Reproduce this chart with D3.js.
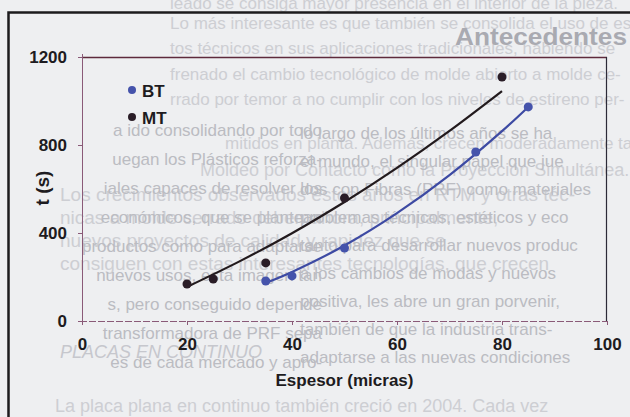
<!DOCTYPE html>
<html>
<head>
<meta charset="utf-8">
<script src="https://cdn.jsdelivr.net/npm/d3@7"></script>
<style>
	body { margin: 0; background: #eeeff1; }
	svg { display: block; }
	.axis text { font-family: "Liberation Sans", Arial, sans-serif; font-size: 17px; font-weight: bold; fill: #1d1b20; }
	.axis line { stroke: #8a5a78; stroke-width: 1; }
	.label { font-family: "Liberation Sans", Arial, sans-serif; font-weight: bold; fill: #1d1b20; }
	.bleed { font-family: "Liberation Sans", Arial, sans-serif; font-size: 17px; }
</style>
</head>
<body>
<script>
// values (espesor in micras, t in s)
var mtThickness = [20, 25, 35, 50, 80],
	mtTime = [168, 191, 264, 559, 1109];
var btThickness = [35, 40, 50, 75, 85],
	btTime = [182, 205, 332, 768, 973];

// the fitted curves
var mtFitThickness = [20, 30, 40, 50, 60, 70, 80],
	mtFitTime = [155, 271, 399, 541, 696, 864, 1045];
var btFitThickness = [35, 40, 50, 60, 70, 80, 85],
	btFitTime = [173, 223, 343, 490, 663, 863, 973];

var xTicks = [0, 20, 40, 60, 80, 100],
	yTicks = [0, 400, 800, 1200];
var seriesNames = ['BT', 'MT'];

// text from the other side of the page that shows through the scan
// [x, baseline, text, font size]
var bleedLight = [
	[170, 9, 'leado se consiga mayor presencia en el interior de la pieza.', 17],
	[170, 29, 'Lo más interesante es que también se consolida el uso de es-', 17],
	[170, 54, 'tos técnicos en sus aplicaciones tradicionales, habiendo se', 17],
	[170, 80, 'frenado el cambio tecnológico de molde abierto a molde ce-', 17],
	[170, 105, 'rrado por temor a no cumplir con los niveles de estireno per-', 17],
	[225, 149, 'mitidos en planta. Además, crecen moderadamente tanto el', 17],
	[200, 176, 'Moldeo por Contacto como la Proyección Simultánea.', 18],
	[60, 201, 'Los crecimientos observados estos años en RTM y otras téc-', 19],
	[60, 224, 'nicas a molde cerrado deben ahora, principalmente,', 19],
	[60, 247, 'nuevos proyectos de calidad y rapidez que se', 19],
	[60, 270, 'consiguen con estas interesantes tecnologías, que crecen', 19],
	[55, 412, 'La placa plana en continuo también creció en 2004. Cada vez', 18]
];
var bleedLeft = ['a ido consolidando por todo', 'uegan los Plásticos reforza-',
	'iales capaces de resolver los', 'económicos, que se plantean', 'productos como para adaptarse',
	'nuevos usos, esta imagen tan', 's, pero conseguido depende', 'transformadora de PRF sepa',
	'es de cada mercado y apro-'];
var bleedRight = ['lo largo de los últimos años se ha', 'el mundo, el singular papel que jue',
	'dos con Fibras (PRF) como materiales', 'problemas técnicos, estéticos y eco',
	'tanto para desarrollar nuevos produc', 'a los cambios de modas y nuevos',
	'positiva, les abre un gran porvenir,', 'también de que la industria trans-',
	'adaptarse a las nuevas condiciones'];

var width = 630,
	height = 417;

var svg = d3.select('body').append('svg')
	.attr('width', width)
	.attr('height', height);

svg.append('rect')
	.attr('width', width)
	.attr('height', height)
	.attr('fill', '#eeeff1');

// faint show-through text
var bleed = svg.append('g').attr('class', 'bleed');

bleed.selectAll('.light')
	.data(bleedLight)
	.enter().append('text')
	.attr('class', 'light')
	.attr('x', function(d) { return d[0]; })
	.attr('y', function(d) { return d[1]; })
	.style('font-size', function(d) { return d[3] + 'px'; })
	.attr('fill', '#cdced3')
	.text(function(d) { return d[2]; });

bleed.selectAll('.left')
	.data(bleedLeft)
	.enter().append('text')
	.attr('class', 'left')
	.attr('x', 322)
	.attr('y', function(d, i) { return 136 + i * 29; })
	.attr('text-anchor', 'end')
	.attr('fill', '#bbbcc2')
	.text(function(d) { return d; });

bleed.selectAll('.right')
	.data(bleedRight)
	.enter().append('text')
	.attr('class', 'right')
	.attr('x', 300)
	.attr('y', function(d, i) { return 139 + i * 28; })
	.attr('fill', '#bbbcc2')
	.text(function(d) { return d; });

bleed.append('text')
	.attr('x', 455)
	.attr('y', 45)
	.attr('textLength', 172)
	.attr('lengthAdjust', 'spacingAndGlyphs')
	.attr('fill', '#a9aab1')
	.style('font-size', '24px')
	.style('font-weight', 'bold')
	.text('Antecedentes');

bleed.append('text')
	.attr('x', 60)
	.attr('y', 358)
	.attr('fill', '#c6c7cd')
	.style('font-style', 'italic')
	.style('font-size', '18px')
	.text('PLACAS EN CONTINUO');

// outer frame of the figure (runs off the right and bottom)
svg.append('path')
	.attr('d', 'M8.5,' + (height + 5) + 'V12.5H' + (width + 5))
	.attr('fill', 'none')
	.attr('stroke', '#1c1b1d')
	.attr('stroke-width', 2.5);

var xScale = d3.scaleLinear().domain([0, 100]).range([82, 607]),
	yScale = d3.scaleLinear().domain([0, 1200]).range([321, 57]);

var xAxis = d3.axisBottom(xScale).tickValues(xTicks).tickSize(4).tickPadding(13),
	yAxis = d3.axisLeft(yScale).tickValues(yTicks).tickSize(4).tickPadding(11)
		.tickFormat(d3.format('d'));

// top and right edges of the plot box
svg.append('line')
	.attr('x1', xScale(0)).attr('x2', xScale(100))
	.attr('y1', yScale(1200) + 0.5).attr('y2', yScale(1200) + 0.5)
	.attr('stroke', '#5e2a3c')
	.attr('stroke-width', 1.3);

svg.append('line')
	.attr('x1', xScale(100) - 0.5).attr('x2', xScale(100) - 0.5)
	.attr('y1', yScale(1200)).attr('y2', yScale(0))
	.attr('stroke', '#2c2a38')
	.attr('stroke-width', 1.2);

// x axis
var gx = svg.append('g')
	.attr('class', 'axis axis--x')
	.attr('transform', 'translate(0,' + yScale(0) + ')')
	.call(xAxis);
gx.select('.domain').remove();
gx.append('line')
	.attr('x1', xScale(0) - 2).attr('x2', xScale(100))
	.attr('y1', 0.5).attr('y2', 0.5)
	.attr('stroke', '#6e3658')
	.attr('stroke-width', 1.4)
	.attr('stroke-dasharray', '7,2');
gx.selectAll('.tick').filter(function(d) { return d === 0; }).select('line').remove();

// y axis
var gy = svg.append('g')
	.attr('class', 'axis axis--y')
	.attr('transform', 'translate(' + xScale(0) + ',0)')
	.call(yAxis);
gy.select('.domain').remove();
gy.append('line')
	.attr('x1', 0.5).attr('x2', 0.5)
	.attr('y1', yScale(1200) - 3).attr('y2', yScale(0) + 4)
	.attr('stroke', '#6d6380')
	.attr('stroke-width', 1.2);

// axis titles
svg.append('text')
	.attr('class', 'label')
	.attr('transform', 'translate(49,188) rotate(-90)')
	.attr('text-anchor', 'middle')
	.style('font-size', '19px')
	.text('t (s)');

svg.append('text')
	.attr('class', 'label')
	.attr('x', (xScale(0) + xScale(100)) / 2)
	.attr('y', 386)
	.attr('text-anchor', 'middle')
	.style('font-size', '17px')
	.text('Espesor (micras)');

var colors = { BT: '#4553ab', MT: '#2a1d27' },
	lineColors = { BT: '#3d4aa3', MT: '#221a1d' };

var series = [
	{ name: 'BT', xs: btThickness, ys: btTime, fx: btFitThickness, fy: btFitTime },
	{ name: 'MT', xs: mtThickness, ys: mtTime, fx: mtFitThickness, fy: mtFitTime }
];

var line = d3.line()
	.x(function(d) { return xScale(d[0]); })
	.y(function(d) { return yScale(d[1]); })
	.curve(d3.curveCatmullRom);

series.forEach(function(s) {
	svg.append('path')
		.datum(d3.zip(s.fx, s.fy))
		.attr('fill', 'none')
		.attr('stroke', lineColors[s.name])
		.attr('stroke-width', 2.2)
		.attr('d', line);

	svg.selectAll('.dot-' + s.name)
		.data(d3.zip(s.xs, s.ys))
		.enter().append('circle')
		.attr('class', 'dot-' + s.name)
		.attr('cx', function(d) { return xScale(d[0]); })
		.attr('cy', function(d) { return yScale(d[1]); })
		.attr('r', 4.5)
		.attr('fill', colors[s.name]);
});

// legend
var legend = svg.selectAll('.legend')
	.data(seriesNames)
	.enter().append('g')
	.attr('class', 'legend')
	.attr('transform', function(d, i) { return 'translate(132,' + (90 + i * 27) + ')'; });

legend.append('circle')
	.attr('r', 4)
	.attr('fill', function(d) { return colors[d]; });

legend.append('text')
	.attr('class', 'label')
	.attr('x', 10)
	.attr('y', 4)
	.attr('dy', '0.18em')
	.style('font-size', '17px')
	.text(function(d) { return d; });
</script>
</body>
</html>
